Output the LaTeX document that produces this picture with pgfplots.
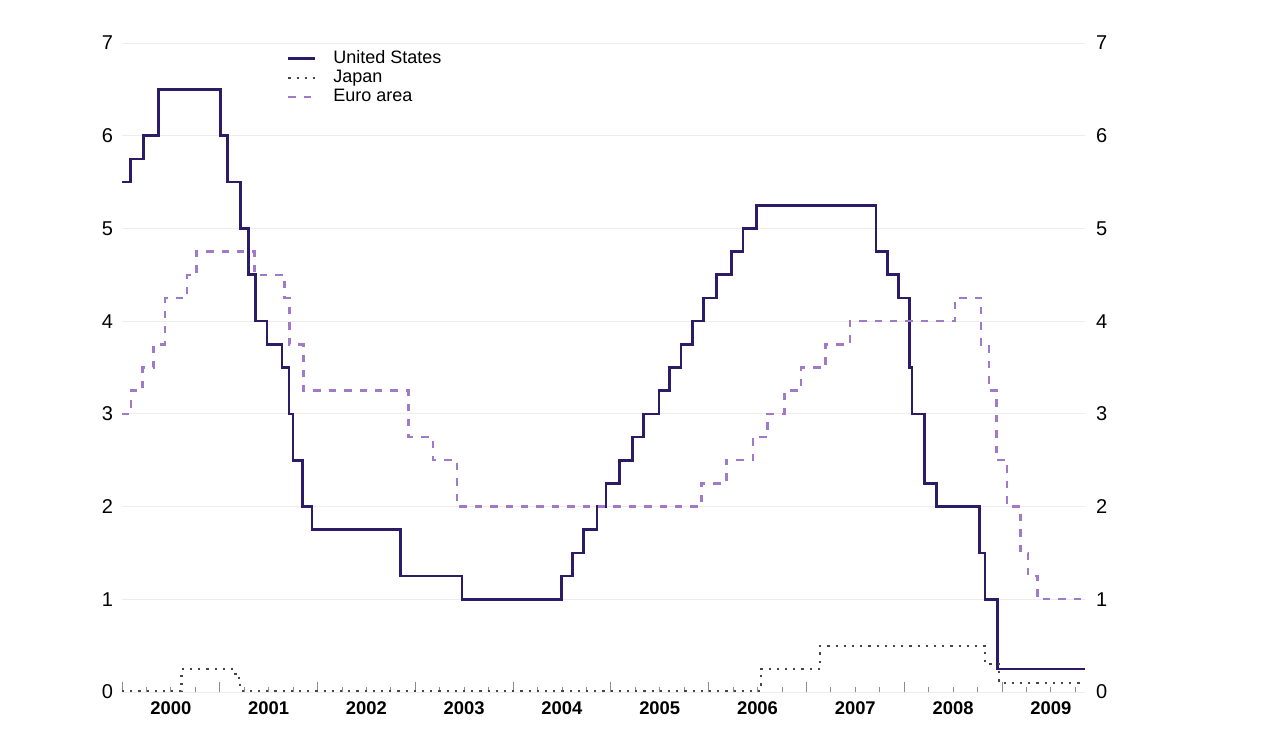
\documentclass[border=0pt]{standalone}
\usepackage{pgfplots}
\pgfplotsset{compat=1.18}
\usepackage{fontspec}
\setmainfont{Liberation Sans}
\definecolor{usblue}{RGB}{44,28,104}
\definecolor{eurolil}{RGB}{160,122,200}
\definecolor{jpgray}{RGB}{70,70,70}
\begin{document}
\begin{tikzpicture}
\path[use as bounding box] (-61pt,-18.5pt) rectangle (580.5pt,346pt);
\begin{axis}[
  scale only axis,
  width=481.5pt, height=324.5pt,
  xmin=2000, xmax=2009.85,
  ymin=0, ymax=7,
  axis line style={draw=none},
  xtick pos=bottom, ytick pos=left,
  tick align=inside,
  xtick={2000.5,2001.5,2002.5,2003.5,2004.5,2005.5,2006.5,2007.5,2008.5,2009.5},
  xticklabels={2000,2001,2002,2003,2004,2005,2006,2007,2008,2009},
  x tick label style={font=\fontsize{9.2}{10}\selectfont\bfseries, yshift=-1.5pt},
  major tick length=0pt,
  minor xtick={2000.25,2000.5,2000.75,2001.25,2001.5,2001.75,2002.25,2002.5,2002.75,2003.25,2003.5,2003.75,2004.25,2004.5,2004.75,2005.25,2005.5,2005.75,2006.25,2006.5,2006.75,2007.25,2007.5,2007.75,2008.25,2008.5,2008.75,2009.25,2009.5,2009.75},
  minor tick length=2.5pt,
  extra x ticks={2000,2001,2002,2003,2004,2005,2006,2007,2008,2009},
  extra x tick labels={},
  extra x tick style={major tick length=5pt, tick style={black!45, line width=0.4pt}},
  tick style={black!45, line width=0.4pt},
  ytick={0,1,2,3,4,5,6,7},
  y tick label style={font=\fontsize{10}{11}\selectfont, xshift=-1pt},
  /pgf/number format/assume math mode=true,
  ymajorgrids, grid style={black!7, line width=0.4pt},
  legend cell align=left,
  legend style={at={(rel axis cs:0.169,0.998)}, anchor=north west, draw=none, fill=none,
    font=\fontsize{9}{9.5}\selectfont, row sep=-2.2pt, inner sep=1pt},
  legend image code/.code={\draw[#1] (0pt,0pt) -- (13.5pt,0pt); \path[draw=none] (0pt,0pt) -- (20.5pt,0pt);},
]
\addplot[const plot, usblue, line width=1.3pt] coordinates {
(2000.0,5.5) (2000.087,5.75) (2000.219,6.0) (2000.372,6.5) (2001.005,6.0) (2001.082,5.5)
(2001.214,5.0) (2001.293,4.5) (2001.367,4.0) (2001.485,3.75) (2001.636,3.5) (2001.710,3.0)
(2001.751,2.5) (2001.847,2.0) (2001.942,1.75) (2002.847,1.25) (2003.479,1.0) (2004.495,1.25)
(2004.607,1.5) (2004.721,1.75) (2004.858,2.0) (2004.951,2.25) (2005.088,2.5) (2005.219,2.75)
(2005.334,3.0) (2005.493,3.25) (2005.603,3.5) (2005.718,3.75) (2005.833,4.0) (2005.948,4.25)
(2006.082,4.5) (2006.236,4.75) (2006.353,5.0) (2006.490,5.25) (2007.712,4.75) (2007.830,4.5)
(2007.942,4.25) (2008.057,3.5) (2008.079,3.0) (2008.210,2.25) (2008.328,2.0) (2008.768,1.5)
(2008.825,1.0) (2008.956,0.25) (2009.85,0.25)
};
\addlegendentry{United States}
\addplot[const plot, jpgray, line width=1.1pt, dash pattern=on 1.1pt off 3pt] coordinates {
(2000.0,0.01) (2000.609,0.25) (2001.16,0.15) (2001.211,0.01) (2006.534,0.25) (2007.140,0.5)
(2008.831,0.3) (2008.967,0.1) (2009.85,0.1)
};
\addlegendentry{Japan}
\addplot[const plot, eurolil, line width=1.2pt, dash pattern=on 3.7pt off 4pt] coordinates {
(2000.0,3.0) (2000.093,3.25) (2000.208,3.5) (2000.322,3.75) (2000.437,4.25) (2000.667,4.5)
(2000.762,4.75) (2001.356,4.5) (2001.663,4.25) (2001.712,3.75) (2001.855,3.25) (2002.929,2.75)
(2003.178,2.5) (2003.427,2.0) (2005.929,2.25) (2006.181,2.5) (2006.452,2.75) (2006.603,3.0)
(2006.775,3.25) (2006.948,3.5) (2007.197,3.75) (2007.447,4.0) (2008.519,4.25) (2008.787,3.75)
(2008.866,3.25) (2008.943,2.5) (2009.055,2.0) (2009.192,1.5) (2009.266,1.25) (2009.362,1.0)
(2009.85,1.0)
};
\addlegendentry{Euro area}
\end{axis}
\begin{axis}[
  scale only axis,
  width=481.5pt, height=324.5pt,
  xmin=2000, xmax=2009.85,
  ymin=0, ymax=7,
  axis line style={draw=none},
  xtick=\empty,
  ytick={0,1,2,3,4,5,6,7},
  yticklabel pos=right,
  major tick length=0pt,
  y tick label style={font=\fontsize{10}{11}\selectfont, xshift=2pt},
  /pgf/number format/assume math mode=true,
]
\end{axis}
\end{tikzpicture}
\end{document}
